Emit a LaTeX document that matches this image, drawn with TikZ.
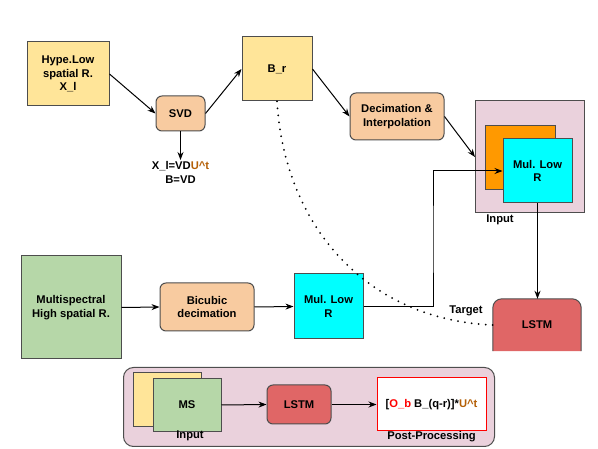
\documentclass[tikz,border=0pt]{standalone}
\usepackage{fontspec}
\setmainfont{Liberation Sans}
\usetikzlibrary{arrows.meta, positioning}
\definecolor{cyellow}{HTML}{FFE599}
\definecolor{cpeach}{HTML}{F8CBA0}
\definecolor{cgreen}{HTML}{B6D7A8}
\definecolor{ccyan}{HTML}{00FFFF}
\definecolor{corange}{HTML}{FF9900}
\definecolor{cpink}{HTML}{EAD1DC}
\definecolor{cred}{HTML}{E06666}
\definecolor{cbrown}{HTML}{B45F06}
\definecolor{cedge}{HTML}{4D4D4D}
\tikzset{
  box/.style={draw=cedge, line width=1pt, align=center, inner sep=0pt},
  roundbox/.style={box, rounded corners=6pt},
  lbl/.style={inner sep=1pt, align=center},
  link/.style={-{Stealth[length=8pt,width=6pt]}, line width=1pt}
}
\begin{document}
\begin{tikzpicture}[x=1pt, y=-1pt, font=\fontsize{11.2}{13.7}\selectfont\bfseries]
  \useasboundingbox (0,0) rectangle (598,449);
  % upper part
  \node[box, fill=cyellow, minimum width=82pt, minimum height=64pt] (hype) at (68,74) {Hype.Low\\spatial R.\\X\_l};
  \node[roundbox, fill=cpeach, minimum width=49pt, minimum height=35pt] (svd) at (180.5,113.5) {SVD};
  \node[lbl, anchor=north] (eq) at (180.5,160) {X\_l=VD\textcolor{cbrown}{U\^{}t}\\B=VD};
  \node[box, fill=cyellow, minimum width=70pt, minimum height=64pt] (br) at (277,69) {B\_r};
  \node[roundbox, fill=cpeach, minimum width=94pt, minimum height=47pt] (dec) at (397,116.5) {Decimation \&\\Interpolation};
  \node[box, fill=cpink, minimum width=109pt, minimum height=112pt] (inbox) at (530,157) {};
  \node[box, fill=corange, minimum width=70pt, minimum height=64pt] (orng) at (520,158) {};
  \node[box, fill=ccyan, minimum width=69pt, minimum height=64pt] (mulT) at (537.5,171) {Mul. Low\\R};
  \node[lbl] (inlbl) at (500,220) {Input};
  % lower part
  \node[box, fill=cgreen, minimum width=100pt, minimum height=103pt] (ms) at (71,307.5) {Multispectral\\High spatial R.};
  \node[roundbox, fill=cpeach, minimum width=94pt, minimum height=48pt] (bic) at (207,307) {Bicubic\\decimation};
  \node[box, fill=ccyan, minimum width=69pt, minimum height=65pt] (mulB) at (328.5,306.5) {Mul. Low\\R};
  \node[minimum width=88pt, minimum height=52pt, inner sep=0pt] (lstm) at (537,325) {};
  \draw[draw=cedge, fill=cred, line width=1pt, rounded corners=9pt] (lstm.south west) -- (lstm.north west) -- (lstm.north east) -- (lstm.south east);
  \node at (lstm) {LSTM};
  \node[lbl] (tgt) at (466,311) {Target};
  \coordinate (turn) at (433,240);
  \draw[link] (hype.east) -- (svd.west);
  \draw[link] (svd.east) -- (br.west);
  \draw[link] (svd.south) -- (eq.north);
  \draw[link] (br.east) -- (dec.west);
  \draw[link] (dec.east) -- (inbox.west);
  \draw[link] (ms.east) -- (bic.west);
  \draw[link] (bic.east) -- (mulB.west);
  \draw[link] (mulB.east) -| (turn) |- (mulT.west);
  \draw[link] (mulT.south) -- (mulT.south |- lstm.north);
  \draw[line width=2pt, dash pattern=on 0pt off 7pt, line cap=round] (br.south) .. controls (285,230) and (370,320) .. (lstm.west);
  % bottom legend
  \node[draw=cedge, fill=cpink, line width=1pt, rounded corners=10pt, minimum width=371pt, minimum height=79pt] (panel) at (309,407) {};
  \node[box, fill=cyellow, minimum width=68pt, minimum height=54pt] (ybk) at (167,400) {};
  \node[box, fill=cgreen, minimum width=68pt, minimum height=53pt] (msS) at (187,405) {MS};
  \node[lbl] (inS) at (190,436) {Input};
  \node[roundbox, fill=cred, minimum width=64pt, minimum height=39pt] (lstmS) at (299,404.5) {LSTM};
  \node[draw=red, fill=white, line width=1pt, minimum width=109pt, minimum height=53pt] (post) at (431.5,404.5) {[\textcolor{red}{O\_b} B\_(q-r)]*\textcolor{cbrown}{U\^{}t}};
  \node[lbl] (postlbl) at (431.5,437) {Post-Processing};
  \draw[link] (msS.east) -- (lstmS.west);
  \draw[link] (lstmS.east) -- (post.west);
\end{tikzpicture}
\end{document}
